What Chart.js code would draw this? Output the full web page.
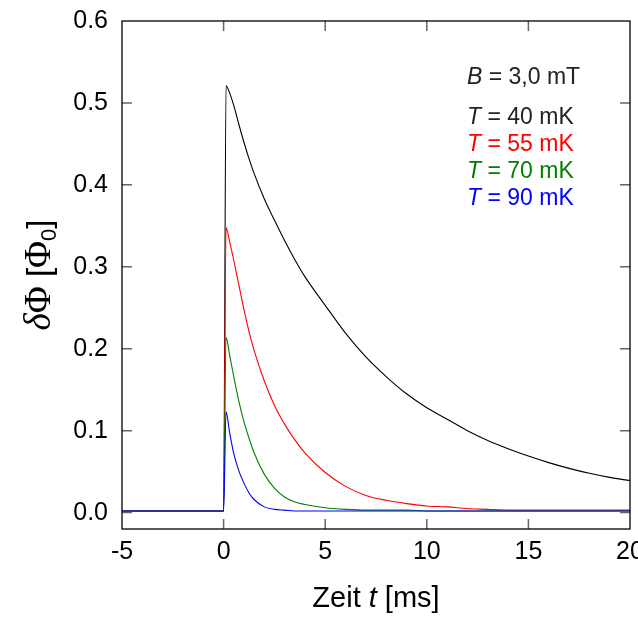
<!DOCTYPE html>
<html>
<head>
<meta charset="utf-8">
<script src="https://cdn.jsdelivr.net/npm/chart.js@4"></script>
<style>
  html, body { margin: 0; padding: 0; background: #fff; }
  #wrap { width: 638px; height: 617px; }
</style>
</head>
<body>
<div id="wrap"><canvas id="c" width="638" height="617"></canvas></div>
<script>
// Time axis (ms)
const times = [-5, -2.5, 0, 0.12, 0.3, 0.5, 0.75, 1, 1.25, 1.5, 2, 2.5, 3, 3.5, 4, 5, 6, 7, 8, 9, 10, 11, 12, 13, 14, 15, 16, 17, 18, 19, 20];
// delta Phi in Phi_0
const phi40mK = [0.002, 0.002, 0.002, 0.521, 0.512, 0.497, 0.474, 0.452, 0.432, 0.414, 0.383, 0.357, 0.332, 0.309, 0.288, 0.253, 0.219, 0.190, 0.166, 0.145, 0.128, 0.114, 0.100, 0.088, 0.078, 0.069, 0.061, 0.054, 0.048, 0.043, 0.039];
const phi55mK = [0.002, 0.002, 0.002, 0.348, 0.330, 0.308, 0.278, 0.248, 0.221, 0.198, 0.161, 0.131, 0.108, 0.089, 0.073, 0.049, 0.032, 0.021, 0.015, 0.011, 0.008, 0.007, 0.005, 0.004, 0.003, 0.003, 0.003, 0.003, 0.003, 0.003, 0.003];
const phi70mK = [0.002, 0.002, 0.002, 0.214, 0.192, 0.166, 0.136, 0.111, 0.091, 0.073, 0.047, 0.030, 0.019, 0.013, 0.010, 0.006, 0.004, 0.003, 0.003, 0.003, 0.002, 0.002, 0.002, 0.002, 0.002, 0.002, 0.002, 0.002, 0.002, 0.002, 0.002];
const phi90mK = [0.002, 0.002, 0.002, 0.123, 0.097, 0.072, 0.051, 0.036, 0.024, 0.016, 0.007, 0.004, 0.003, 0.002, 0.002, 0.002, 0.002, 0.002, 0.002, 0.002, 0.002, 0.002, 0.002, 0.002, 0.002, 0.002, 0.002, 0.002, 0.002, 0.002, 0.002];

const seriesLabels = ['T = 40 mK', 'T = 55 mK', 'T = 70 mK', 'T = 90 mK'];
const seriesColors = ['#000000', '#ff0000', '#008000', '#0000ff'];
const seriesValues = [phi40mK, phi55mK, phi70mK, phi90mK];
const xTickValues = [-5, 0, 5, 10, 15, 20];
const yTickValues = [0, 0.1, 0.2, 0.3, 0.4, 0.5, 0.6];

const SANS = '"Liberation Sans", Arial, Helvetica, sans-serif';
const SERIF = '"Liberation Serif", "Times New Roman", serif';

const datasets = seriesValues.map((vals, i) => ({
  label: seriesLabels[i],
  data: times.map((t, k) => ({ x: t, y: vals[k] })),
  borderColor: seriesColors[i],
  borderWidth: 1.1,
  pointRadius: 0,
  fill: false,
  cubicInterpolationMode: 'monotone',
  order: 4 - i
}));

const decorPlugin = {
  id: 'decor',
  afterDraw(chart) {
    const ctx = chart.ctx;
    const a = chart.chartArea;
    const xs = chart.scales.x, ys = chart.scales.y;
    ctx.save();
    // inner ticks
    ctx.strokeStyle = '#666';
    ctx.lineWidth = 1.5;
    const TL = 10;
    xTickValues.forEach(v => {
      const px = xs.getPixelForValue(v);
      if (px <= a.left + 1 || px >= a.right - 1) return;
      ctx.beginPath();
      ctx.moveTo(px, a.bottom); ctx.lineTo(px, a.bottom - TL);
      ctx.moveTo(px, a.top); ctx.lineTo(px, a.top + TL);
      ctx.stroke();
    });
    yTickValues.forEach(v => {
      const py = ys.getPixelForValue(v);
      if (py <= a.top + 1 || py >= a.bottom - 1) return;
      ctx.beginPath();
      ctx.moveTo(a.left, py); ctx.lineTo(a.left + TL, py);
      ctx.moveTo(a.right, py); ctx.lineTo(a.right - TL, py);
      ctx.stroke();
    });
    // frame
    ctx.strokeStyle = '#000';
    ctx.lineWidth = 1.3;
    ctx.strokeRect(a.left, a.top, a.right - a.left, a.bottom - a.top);

    ctx.textBaseline = 'alphabetic';
    ctx.textAlign = 'left';
    function mixed(parts, x, y) {
      let cx = x;
      parts.forEach(p => {
        ctx.font = p.font;
        ctx.fillStyle = p.color;
        ctx.fillText(p.text, cx, y + (p.dy || 0));
        cx += ctx.measureText(p.text).width;
      });
      return cx - x;
    }
    // annotation text
    const ax = 467;
    const af = '23px ' + SANS, afi = 'italic 23px ' + SANS;
    mixed([{ text: 'B', font: afi, color: '#222' }, { text: ' = 3,0 mT', font: af, color: '#222' }], ax, 84);
    const lineYs = [124, 151, 178, 205];
    ['40', '55', '70', '90'].forEach((t, i) => {
      const col = i === 0 ? '#222' : seriesColors[i];
      mixed([{ text: 'T', font: afi, color: col }, { text: ' = ' + t + ' mK', font: af, color: col }], ax, lineYs[i]);
    });

    // x title
    const xf = '29px ' + SANS, xfi = 'italic 29px ' + SANS;
    const xparts = [{ text: 'Zeit ', font: xf, color: '#000' }, { text: 't', font: xfi, color: '#000' }, { text: ' [ms]', font: xf, color: '#000' }];
    let w = 0;
    xparts.forEach(p => { ctx.font = p.font; w += ctx.measureText(p.text).width; });
    mixed(xparts, (a.left + a.right) / 2 - w / 2, 607);

    // y title (rotated)
    const yparts = [
      { text: 'δ', font: 'italic 37px ' + SERIF, color: '#000' },
      { text: 'Φ', font: '37px ' + SERIF, color: '#000' },
      { text: ' [', font: '33px ' + SANS, color: '#000' },
      { text: 'Φ', font: '37px ' + SERIF, color: '#000' },
      { text: '0', font: '22px ' + SANS, color: '#000', dy: 6 },
      { text: ']', font: '33px ' + SANS, color: '#000' }
    ];
    let wy = 0;
    yparts.forEach(p => { ctx.font = p.font; wy += ctx.measureText(p.text).width; });
    ctx.translate(50, (a.top + a.bottom) / 2);
    ctx.rotate(-Math.PI / 2);
    mixed(yparts, -wy / 2, 0);
    ctx.restore();
  }
};

new Chart(document.getElementById('c'), {
  type: 'line',
  data: { datasets },
  options: {
    responsive: false,
    animation: false,
    events: [],
    layout: { padding: { left: 0, right: 8, top: 21, bottom: 0 } },
    plugins: { legend: { display: false }, tooltip: { enabled: false } },
    scales: {
      x: {
        type: 'linear',
        min: -5, max: 20,
        grid: { display: false, drawTicks: false },
        border: { display: false },
        afterBuildTicks: s => { s.ticks = xTickValues.map(v => ({ value: v })); },
        afterFit: s => { s.height = 88; s.paddingLeft = 0; s.paddingRight = 0; },
        ticks: { padding: 8, color: '#000', font: { family: SANS, size: 25 }, maxRotation: 0, callback: v => String(v) }
      },
      y: {
        type: 'linear',
        min: -0.02, max: 0.6,
        grid: { display: false, drawTicks: false },
        border: { display: false },
        afterBuildTicks: s => { s.ticks = yTickValues.map(v => ({ value: v })); },
        afterFit: s => { s.width = 122; s.paddingTop = 0; s.paddingBottom = 0; },
        ticks: { padding: 14, color: '#000', font: { family: SANS, size: 25 }, callback: v => Number(v).toFixed(1) }
      }
    }
  },
  plugins: [decorPlugin]
});
</script>
</body>
</html>
